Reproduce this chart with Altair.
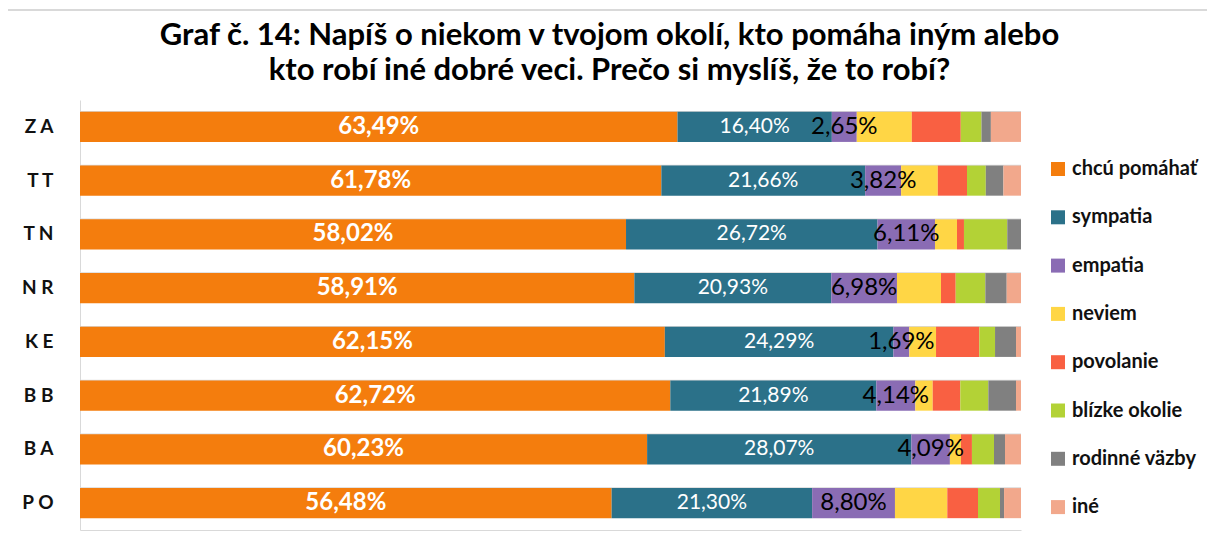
import altair as alt
import pandas as pd

categories = ["ZA", "TT", "TN", "NR", "KE", "BB", "BA", "PO"]
series = ["chcú pomáhať", "sympatia", "empatia", "neviem", "povolanie",
          "blízke okolie", "rodinné väzby", "iné"]
colors = ["#F47D0D", "#2B7189", "#8A6CB4", "#FFD645", "#F96042",
          "#B3D236", "#808080", "#F2A88C"]

chcu = [63.49, 61.78, 58.02, 58.91, 62.15, 62.72, 60.23, 56.48]
sympatia = [16.40, 21.66, 26.72, 20.93, 24.29, 21.89, 28.07, 21.30]
empatia = [2.65, 3.82, 6.11, 6.98, 1.69, 4.14, 4.09, 8.80]
neviem = [5.85, 3.90, 2.34, 4.68, 2.84, 1.85, 1.17, 5.56]
povolanie = [5.20, 3.10, 0.74, 1.56, 4.60, 2.93, 1.17, 3.26]
blizke = [2.20, 2.00, 4.60, 3.15, 1.67, 2.98, 2.34, 2.34]
rodinne = [1.00, 1.87, 1.46, 2.27, 2.23, 2.94, 1.17, 0.43]
ine = [3.20, 1.87, 0.00, 1.52, 0.53, 0.53, 1.70, 1.80]

title_lines = ["Graf č. 14: Napíš o niekom v tvojom okolí, kto pomáha iným alebo",
               "kto robí iné dobré veci. Prečo si myslíš, že to robí?"]

all_series = [chcu, sympatia, empatia, neviem, povolanie, blizke, rodinne, ine]
rows = []
for si, (name, vals) in enumerate(zip(series, all_series)):
    for ci, cat in enumerate(categories):
        rows.append({"cat": cat, "series": name, "idx": si, "value": vals[ci]})
df = pd.DataFrame(rows)

FONT = "Lato"
GRID = "#d9d9d9"

base = (
    alt.Chart(df)
    .transform_joinaggregate(total="sum(value)", groupby=["cat"])
    .transform_window(cum="sum(value)", sort=[alt.SortField("idx")],
                      groupby=["cat"], frame=[None, 0])
    .transform_calculate(
        x1="(datum.cum - datum.value) / datum.total",
        x2="datum.cum / datum.total",
        mid="(datum.cum - datum.value / 2) / datum.total",
        lbl="replace(format(datum.value, '.2f'), '.', ',') + '%'",
    )
)

y_scale = alt.Scale(paddingInner=0.44, paddingOuter=0.22)
y_enc = alt.Y(
    "cat:N", sort=categories, scale=y_scale,
    axis=alt.Axis(title=None, ticks=False, domain=True, domainColor=GRID,
                  grid=False, labelPadding=27,
                  labelFont=FONT, labelFontSize=19, labelFontWeight="bold",
                  labelColor="#111111",
                  labelExpr="join(split(datum.label, ''), ' ')"),
)
x_scale = alt.Scale(domain=[0, 1], nice=False, zero=True)
x_axis = alt.Axis(title=None, labels=False, ticks=False, grid=False,
                  domain=True, domainColor=GRID)

grid = alt.Chart(alt.Data(values=[{"cat": c} for c in categories])).mark_rule(
    color=GRID, strokeWidth=1.5
).encode(
    y=alt.Y("cat:N", sort=categories, bandPosition=0),
    x=alt.datum(0), x2=alt.datum(1),
)

bars = base.mark_bar().encode(
    y=y_enc,
    x=alt.X("x1:Q", scale=x_scale, axis=x_axis),
    x2="x2:Q",
    color=alt.Color(
        "series:N", scale=alt.Scale(domain=series, range=colors),
        legend=alt.Legend(title=None, orient="none", legendX=968, legendY=59,
                          symbolType="square", symbolSize=196,
                          symbolStrokeWidth=0, labelFont=FONT,
                          labelFontSize=20, labelFontWeight="bold",
                          labelColor="#111111", rowPadding=28.3,
                          labelOffset=4, labelLimit=300),
    ),
)

t0 = base.transform_filter("datum.idx == 0").mark_text(
    font=FONT, fontSize=24, fontWeight="bold", color="white"
).encode(y=alt.Y("cat:N", sort=categories), x=alt.X("mid:Q"), text="lbl:N")

t1 = base.transform_filter("datum.idx == 1").mark_text(
    font=FONT, fontSize=21, color="white"
).encode(y=alt.Y("cat:N", sort=categories), x=alt.X("mid:Q"), text="lbl:N")

t2 = base.transform_filter("datum.idx == 2").mark_text(
    font=FONT, fontSize=24, color="black"
).encode(y=alt.Y("cat:N", sort=categories), x=alt.X("mid:Q"), text="lbl:N")

frame = alt.Chart(alt.Data(values=[{}])).mark_rect(
    fill=None, stroke=GRID, strokeWidth=2
).encode(x=alt.value(-76), x2=alt.value(1134), y=alt.value(-90), y2=alt.value(470))

chart = (
    alt.layer(frame, grid, bars, t0, t1, t2)
    .properties(
        width=941, height=430,
        autosize=alt.AutoSizeParams(type="none"),
        padding={"left": 72, "top": 92, "right": 186, "bottom": 14},
        title=alt.TitleParams(title_lines, font=FONT, fontSize=31,
                              fontWeight="bold", color="black", anchor="middle",
                              dx=59, lineHeight=35, offset=-78),
    )
    .configure_view(stroke=None)
)

chart.save("out.html", embed_options={"renderer": "svg", "actions": False})
